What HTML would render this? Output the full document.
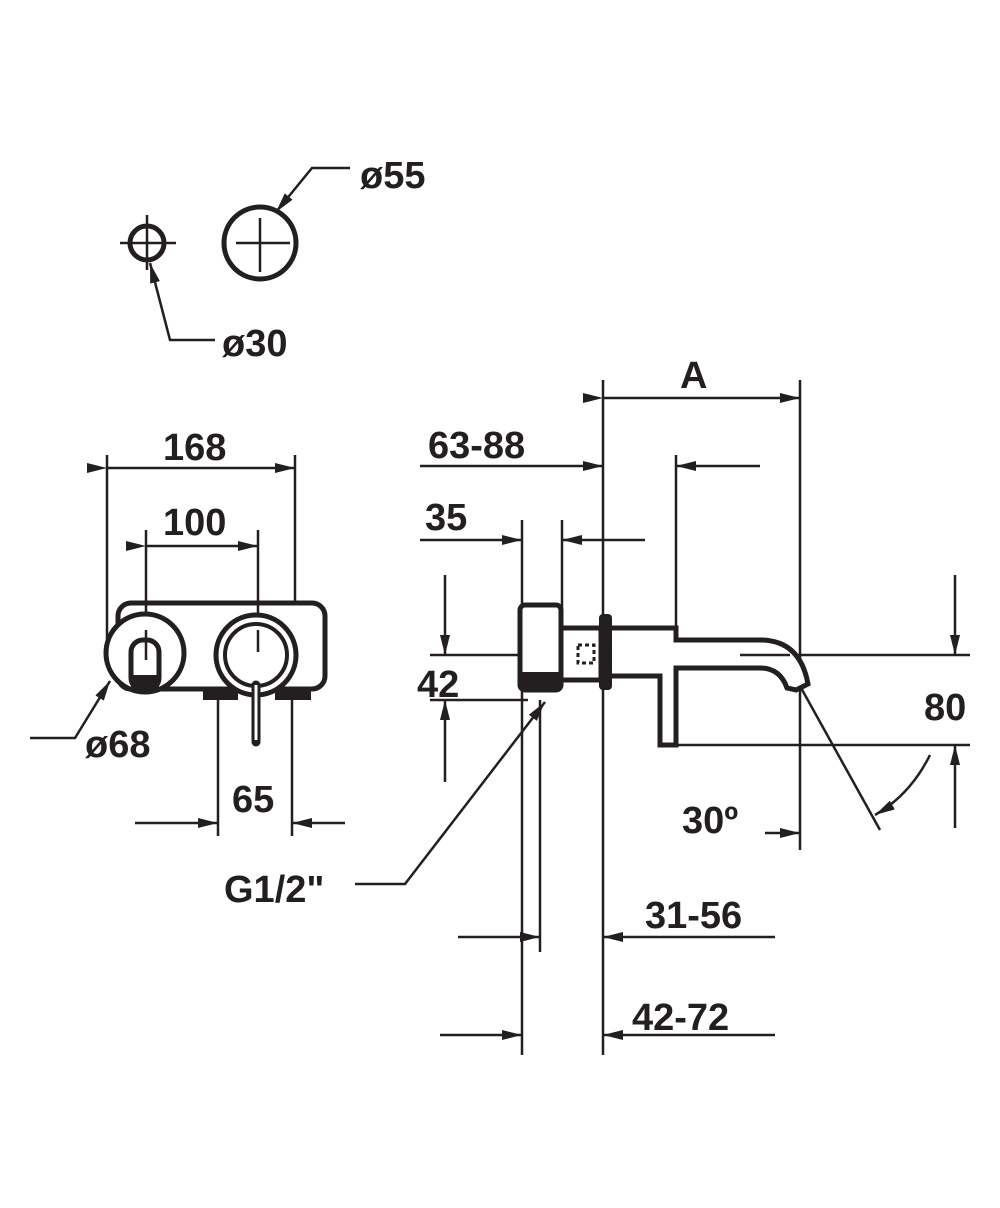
<!DOCTYPE html>
<html><head><meta charset="utf-8"><style>
html,body{margin:0;padding:0;background:#fff;}
svg{display:block;}
text{font-family:"Liberation Sans",Arial,sans-serif;font-weight:bold;fill:#231f20;font-size:38px;}
</style></head><body>
<svg width="1000" height="1208" viewBox="0 0 1000 1208" xmlns="http://www.w3.org/2000/svg">
<defs>
<marker id="a" viewBox="0 0 20 10" refX="20" refY="5" markerWidth="20" markerHeight="10" markerUnits="userSpaceOnUse" orient="auto">
<path d="M0,0 L20,5 L0,10 Z" fill="#231f20"/></marker>
</defs>
<g stroke="#231f20" stroke-width="2.5" fill="none">
<!-- top circles -->
<circle cx="147" cy="243" r="17" stroke-width="5"/>
<line x1="120" y1="243" x2="176" y2="243"/><line x1="147" y1="215" x2="147" y2="270"/>
<circle cx="260" cy="243" r="36" stroke-width="5"/>
<line x1="236" y1="243" x2="290" y2="243"/><line x1="260" y1="218" x2="260" y2="272"/>
<polyline points="350,168 312,168 276,212" marker-end="url(#a)"/>
<polyline points="215,340 170,340 150,263" marker-end="url(#a)"/>

<!-- left view dims -->
<line x1="107" y1="455" x2="107" y2="640"/><line x1="295" y1="455" x2="295" y2="605"/>
<line x1="107" y1="468" x2="295" y2="468" marker-start="url(#a)" marker-end="url(#a)"/>
<line x1="146" y1="530" x2="146" y2="630"/><line x1="258" y1="530" x2="258" y2="630"/>
<line x1="146" y1="546" x2="258" y2="546" marker-start="url(#a)" marker-end="url(#a)"/>
<line x1="218" y1="700" x2="218" y2="836"/><line x1="292" y1="700" x2="292" y2="836"/>
<line x1="135" y1="823" x2="218" y2="823" marker-end="url(#a)"/>
<line x1="345" y1="823" x2="292" y2="823" marker-end="url(#a)"/>
<polyline points="30,738 75,738 110,681" marker-end="url(#a)"/>

<!-- left body -->
<rect x="118" y="603" width="207" height="86" rx="13" stroke-width="5"/>
<circle cx="145" cy="653" r="39" stroke-width="5" fill="#fff"/>
<rect x="131" y="640" width="28" height="50" rx="12" stroke-width="5" fill="#fff"/>
<rect x="131" y="675" width="28" height="14" fill="#231f20" stroke="none"/>
<circle cx="256" cy="655" r="40" stroke-width="5" fill="#fff"/>
<circle cx="256" cy="655" r="31" stroke-width="4"/>
<rect x="203" y="688" width="35" height="12" fill="#231f20" stroke="none"/>
<rect x="275" y="688" width="36" height="12" fill="#231f20" stroke="none"/>
<line x1="256" y1="685" x2="256" y2="742" stroke-width="9" stroke-linecap="round"/>
<line x1="256" y1="685" x2="256" y2="740" stroke="#fff" stroke-width="3"/>
<line x1="146" y1="630" x2="146" y2="660"/><line x1="258" y1="630" x2="258" y2="652"/>

<!-- side view verticals -->
<line x1="522" y1="520" x2="522" y2="1055"/>
<line x1="540" y1="700" x2="540" y2="952"/>
<line x1="562" y1="520" x2="562" y2="608"/>
<line x1="603" y1="380" x2="603" y2="1055"/>
<line x1="676" y1="455" x2="676" y2="628"/>
<line x1="800" y1="380" x2="800" y2="850"/>
<!-- A -->
<line x1="603" y1="398" x2="800" y2="398" marker-start="url(#a)" marker-end="url(#a)"/>
<!-- 63-88 -->
<line x1="420" y1="466" x2="603" y2="466" marker-end="url(#a)"/>
<line x1="760" y1="466" x2="676" y2="466" marker-end="url(#a)"/>
<!-- 35 -->
<line x1="420" y1="540" x2="522" y2="540" marker-end="url(#a)"/>
<line x1="645" y1="540" x2="562" y2="540" marker-end="url(#a)"/>
<!-- 42 -->
<line x1="430" y1="655" x2="528" y2="655"/><line x1="740" y1="655" x2="970" y2="655"/>
<line x1="430" y1="700" x2="528" y2="700"/>
<line x1="445" y1="575" x2="445" y2="655" marker-end="url(#a)"/>
<line x1="445" y1="782" x2="445" y2="700" marker-end="url(#a)"/>
<!-- 80 -->
<line x1="676" y1="745" x2="970" y2="745"/>
<line x1="955" y1="575" x2="955" y2="655" marker-end="url(#a)"/>
<line x1="955" y1="828" x2="955" y2="745" marker-end="url(#a)"/>
<!-- 30° -->
<line x1="800" y1="686" x2="880" y2="830"/>
<path d="M930,755 Q910,795 875,815" marker-end="url(#a)"/>
<line x1="765" y1="833" x2="800" y2="833" marker-end="url(#a)"/>
<!-- 31-56 -->
<line x1="458" y1="937" x2="540" y2="937" marker-end="url(#a)"/>
<line x1="775" y1="937" x2="603" y2="937" marker-end="url(#a)"/>
<!-- 42-72 -->
<line x1="440" y1="1035" x2="522" y2="1035" marker-end="url(#a)"/>
<line x1="775" y1="1035" x2="603" y2="1035" marker-end="url(#a)"/>
<!-- G1/2 leader -->
<polyline points="355,884 405,884 545,702" marker-end="url(#a)"/>

<!-- side body -->
<rect x="520" y="605" width="41" height="85" rx="5" stroke-width="5" fill="#fff"/>
<rect x="520" y="672" width="41" height="18" fill="#231f20" stroke="none"/>
<rect x="561" y="628" width="40" height="52" stroke-width="5" fill="#fff"/>
<rect x="578" y="645" width="16" height="18" stroke-width="3" stroke-dasharray="4 3"/>
<rect x="599" y="614" width="13" height="76" rx="4" fill="#231f20" stroke="none"/>
<path d="M612,628 H676 V640 H760 Q800,640 808,684 L796,690 L787,688 Q780,668 760,668 H676 V745 H660 V676 H612" stroke-width="5" fill="#fff"/>
<line x1="740" y1="655" x2="790" y2="655"/>
<line x1="603" y1="620" x2="603" y2="690" stroke="#231f20"/>
</g>
<text x="360" y="188">ø55</text>
<text x="222" y="356">ø30</text>
<text x="163" y="460">168</text>
<text x="163" y="535">100</text>
<text x="85" y="757">ø68</text>
<text x="232" y="812">65</text>
<text x="224" y="902">G1/2"</text>
<text x="680" y="388">A</text>
<text x="428" y="458">63-88</text>
<text x="425" y="530">35</text>
<text x="417" y="697">42</text>
<text x="924" y="720">80</text>
<text x="682" y="833">30º</text>
<text x="645" y="928">31-56</text>
<text x="632" y="1030">42-72</text>
</svg>
</body></html>
